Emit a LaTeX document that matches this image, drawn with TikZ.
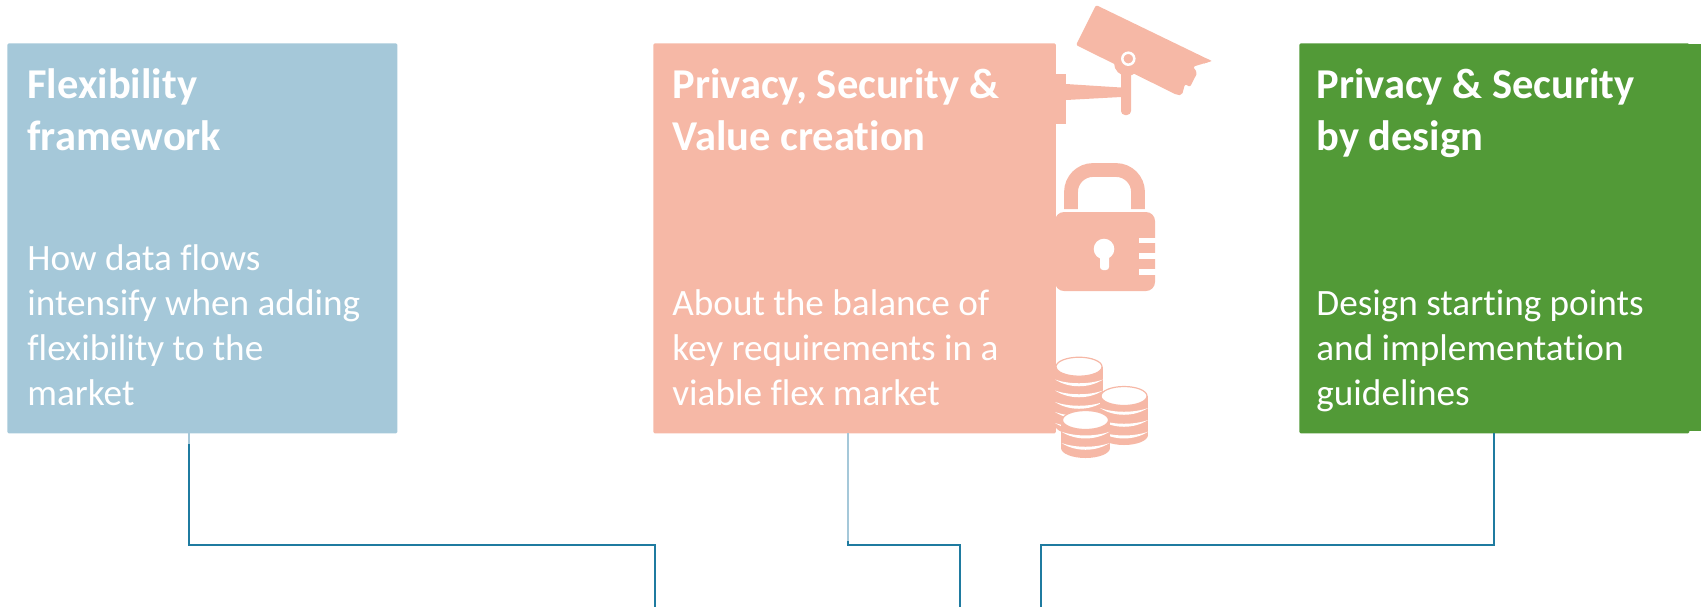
\documentclass[tikz,border=0pt]{standalone}
\usepackage{fontspec}
\setmainfont[Ligatures=NoCommon]{Carlito}
\definecolor{flexblue}{HTML}{A5C8D9}
\definecolor{privsalmon}{HTML}{F6B8A6}
\definecolor{designgreen}{HTML}{529A37}
\definecolor{linkblue}{HTML}{1F7BA0}
\tikzset{
	themebox/.style={anchor=north west, inner sep=0pt, minimum width=#1, minimum height=195pt, rounded corners=0.7pt},
	titletext/.style={anchor=north west, inner sep=0pt, align=left, text=white, font=\fontsize{21.25}{26}\selectfont\bfseries},
	bodytext/.style={anchor=north west, inner sep=0pt, align=left, text=white, font=\fontsize{18.6}{22.5}\selectfont},
	link/.style={draw=linkblue, line width=1pt},
	lightlink/.style={draw=flexblue, line width=1pt},
	icon/.style={fill=privsalmon, draw=none},
	coin/.style={fill=white, draw=privsalmon, line width=0.6pt}
}
\newcommand{\coinstripe}[2]{\fill[white] (#1-24,#2) .. controls (#1-10,#2+9) and (#1+10,#2+9) .. (#1+24,#2) .. controls (#1+10,#2+5) and (#1-10,#2+5) .. cycle;}
\begin{document}
\begin{tikzpicture}[x=0.5pt, y=-0.5pt]
	\useasboundingbox (0,0) rectangle (1701,607);
	% boxes
	\node (flexbox) at (7,43) [themebox=195pt, fill=flexblue] {};
	\node (privbox) at (653,43) [themebox=201.2pt, fill=privsalmon] {};
	\node (designbox) at (1299,43) [themebox=195pt, fill=designgreen] {};
	\node (designedge) at (1680,44) [themebox=10.5pt, minimum height=193.5pt, rounded corners=0pt, fill=designgreen] {};

	% texts
	\node (flextitle) at (27,68) [titletext] {Flexibility\\framework};
	\node (flexbody) at (27,244) [bodytext] {How data flows\\intensify when adding\\flexibility to the\\market};
	\node (privtitle) at (672,68) [titletext] {Privacy, Security \&\\Value creation};
	\node (privbody) at (672,289) [bodytext] {About the balance of\\key requirements in a\\viable flex market};
	\node (designtitle) at (1316,68) [titletext] {Privacy \& Security\\by design};
	\node (designbody) at (1316,289) [bodytext] {Design starting points\\and implementation\\guidelines};

	% camera
	\fill[icon] (1055,74) rectangle (1066,124);
	\fill[icon] (1066,84) -- (1121,87.5) -- (1121,97) -- (1066,100) -- cycle;
	\fill[icon, rounded corners=2pt] (1121,60) rectangle (1131,115);
	\fill[icon] (1127,63) circle[radius=13];
	\fill[icon, rounded corners=1pt] (1096,5) -- (1211.7,61) -- (1193,66.7) -- (1197.3,72.7) -- (1190,87) -- (1185,84) -- (1182,95) -- (1177,95) -- (1076,45) -- cycle;
	\fill[icon] (1207,58.8) -- (1211.7,61) -- (1204,63.5) -- cycle;
	\filldraw[fill=privsalmon, draw=white, line width=1.25pt] (1128.3,58.7) circle[radius=6];

	% lock
	\draw[draw=privsalmon, line width=6.9pt, rounded corners=11pt] (1071,209) -- (1071,170) -- (1138,170) -- (1138,209);
	\fill[icon, rounded corners=4.5pt] (1055,212) rectangle (1155,291);
	\fill[white] (1139,237.7) rectangle (1156,243);
	\fill[white] (1139,253) rectangle (1156,259);
	\fill[white] (1139,269) rectangle (1156,275);
	\fill[white] (1104,249) circle[radius=10.3];
	\fill[white, rounded corners=1.5pt] (1100,252) rectangle (1109,270);

	% coins
	\fill[icon] (1055,367) rectangle (1103,425);
	\fill[icon] (1079,425) ellipse[x radius=24, y radius=10];
	\foreach \stripey in {379.5,390.5,402,412,423} {\coinstripe{1079}{\stripey}}
	\filldraw[coin] (1079,366.7) ellipse[x radius=23, y radius=9.5];
	\fill[icon] (1100,396) rectangle (1148,435);
	\fill[icon] (1124,435) ellipse[x radius=24, y radius=10];
	\foreach \stripey in {408,420,431.7} {\coinstripe{1124}{\stripey}}
	\filldraw[coin] (1124,396) ellipse[x radius=23, y radius=9.5];
	\fill[icon] (1061,420) rectangle (1110,448);
	\fill[icon] (1085.5,448) ellipse[x radius=24.5, y radius=10];
	\foreach \stripey in {431.7,443} {\coinstripe{1085.5}{\stripey}}
	\filldraw[coin] (1085.5,420) ellipse[x radius=23, y radius=9.5];

	% connectors
	\coordinate (flexstub) at (189,433);
	\coordinate (flexstart) at (189,444);
	\coordinate (flexknee) at (189,545);
	\coordinate (flexturn) at (655,545);
	\coordinate (flexend) at (655,607);
	\coordinate (privstub) at (848,433);
	\coordinate (privstart) at (848,541);
	\coordinate (privknee) at (848,545);
	\coordinate (privturn) at (960,545);
	\coordinate (privend) at (960,607);
	\coordinate (designstub) at (1494,433);
	\coordinate (designknee) at (1494,545);
	\coordinate (designturn) at (1041,545);
	\coordinate (designend) at (1041,607);
	\draw[lightlink, shift={(-1,1)}] (flexstart) -- (flexknee) -- (flexturn);
	\draw[lightlink, shift={(1,1)}] (designstub) -- (designknee) -- (designturn);
	\draw[lightlink, shift={(0,1)}] (privknee) -- (privturn);
	\draw[lightlink] (flexstub) -- (flexstart);
	\draw[link] (flexstart) -- (flexknee) -- (flexturn) -- (flexend);
	\draw[lightlink] (privstub) -- (privstart);
	\draw[link] (privstart) -- (privknee) -- (privturn) -- (privend);
	\draw[link] (designstub) -- (designknee) -- (designturn) -- (designend);
\end{tikzpicture}
\end{document}
